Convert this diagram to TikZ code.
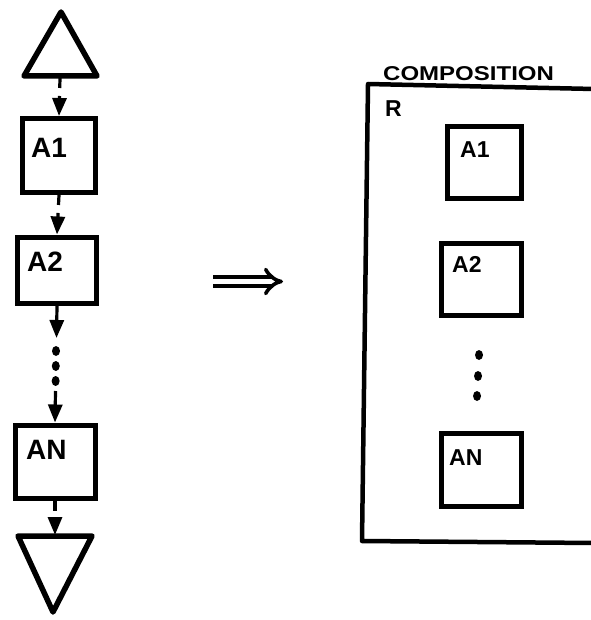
\documentclass[tikz,border=0pt]{standalone}
\usepackage{fontspec}
\setmainfont{Liberation Sans}
\usetikzlibrary{arrows.meta,shapes.geometric}
\begin{document}
\begin{tikzpicture}[x=1pt,y=-1pt,
  blk/.style={draw,line width=5pt,inner sep=0pt},
  lbig/.style={anchor=west,inner sep=0pt,font=\fontsize{28}{28}\selectfont\bfseries},
  lsmall/.style={anchor=west,inner sep=0pt,font=\fontsize{23}{23}\selectfont\bfseries},
  conn/.style={line width=3.2pt,dash pattern=on 10pt off 8pt,-{Triangle[length=18pt,width=14pt]}},
  solidconn/.style={line width=3.2pt,-{Triangle[length=18pt,width=14pt]}},
  tri/.style={draw,line width=5.5pt,line join=round},
  frame/.style={draw,line width=4.5pt,line join=round},
  dot/.style={fill,ellipse,inner sep=0pt,minimum width=8pt,minimum height=10pt}]
\useasboundingbox (0,0) rectangle (590,620);

% left column
\draw[tri] (61,12) -- (97,76) -- (24,76) -- cycle;
\coordinate (t1) at (60,78);
\node[blk,minimum width=73pt,minimum height=74pt] (a1) at (59,155.5) {};
\node[lbig] (a1t) at (31,148) {A1};
\node[blk,minimum width=79pt,minimum height=66pt] (a2) at (57,270) {};
\node[lbig] (a2t) at (27,262) {A2};
\node[blk,minimum width=80pt,minimum height=73pt] (an) at (55,461.5) {};
\node[lbig] (ant) at (26,450) {AN};
\draw[tri] (18,536) -- (92,536) -- (53,612) -- cycle;
\coordinate (t2) at (55,535);

\draw[conn] (t1) -- (a1.north);
\draw[conn] (a1.south) -- (a2.north);
\coordinate (m1) at (56.5,338);
\coordinate (m2) at (55.5,391);
\draw[solidconn] (a2.south) -- (m1);
\node[dot] (d1) at (56,351) {};
\node[dot] (d2) at (55.8,366) {};
\node[dot] (d3) at (55.6,381) {};
\draw[solidconn] (m2) -- (an.north);
\draw[conn] (an.south) -- (t2);

% implies arrow
\coordinate (i1) at (213,281.5);
\coordinate (i2) at (283,281.5);
\draw[line width=3.6pt,double distance=5.5pt,-{Implies[length=12pt]}] (i1) -- (i2);

% composition frame
\draw[frame] (594,89) -- (368,84) -- (362,541) -- (594,543);
\node[anchor=south west,inner sep=0pt,xscale=1.2,font=\fontsize{20}{20}\selectfont\bfseries] (comp) at (383,81) {COMPOSITION};
\node[lsmall] (r) at (385,109) {R};

\node[blk,minimum width=74pt,minimum height=72pt] (b1) at (484,162.5) {};
\node[lsmall] (b1t) at (460,150) {A1};
\node[blk,minimum width=80pt,minimum height=72pt] (b2) at (481.5,279.5) {};
\node[lsmall] (b2t) at (452,264) {A2};
\node[dot] (e1) at (479,355) {};
\node[dot] (e2) at (478,376) {};
\node[dot] (e3) at (477,396) {};
\node[blk,minimum width=80pt,minimum height=73pt] (bn) at (481,470) {};
\node[lsmall] (bnt) at (449,458) {AN};
\end{tikzpicture}
\end{document}
